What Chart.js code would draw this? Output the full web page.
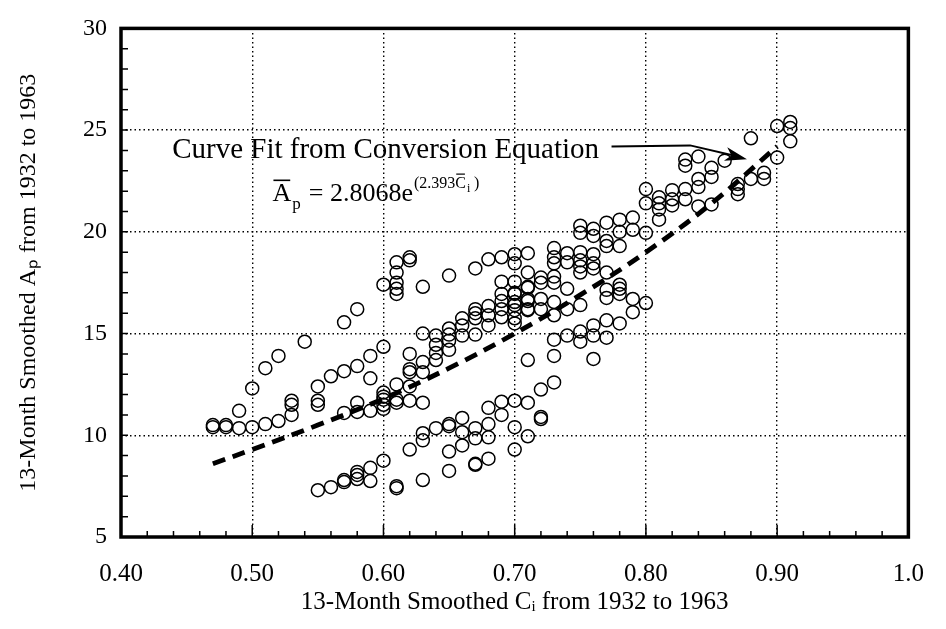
<!DOCTYPE html>
<html>
<head>
<meta charset="utf-8">
<script src="https://cdn.jsdelivr.net/npm/chart.js@4.4.0/dist/chart.umd.min.js"></script>
<style>
    html, body { margin: 0; padding: 0; background: #fff; }
    #wrap { width: 946px; height: 629px; }
</style>
</head>
<body>
<div id="wrap"><canvas id="apChart"></canvas></div>
<script>
// C_i was rounded to 0.01, so the points sit in columns; one list of Ap per column
var ciColumns = [0.47, 0.48, 0.49, 0.50, 0.51, 0.52, 0.53, 0.54, 0.55, 0.56,
                 0.57, 0.58, 0.59, 0.60, 0.61, 0.62, 0.63, 0.64, 0.65, 0.66,
                 0.67, 0.68, 0.69, 0.70, 0.71, 0.72, 0.73, 0.74, 0.75, 0.76,
                 0.77, 0.78, 0.79, 0.80, 0.81, 0.82, 0.83, 0.84, 0.85, 0.86,
                 0.87, 0.88, 0.89, 0.90, 0.91];
var apColumns = [
    [10.4, 10.5],
    [10.4, 10.5],
    [10.35, 11.2],
    [10.4, 12.3],
    [10.55, 13.3],
    [10.7, 13.9],
    [11.0, 11.5, 11.7],
    [14.6],
    [7.3, 11.5, 11.7, 12.4],
    [7.45, 12.9],
    [7.7, 7.8, 11.1, 13.15, 15.55],
    [7.85, 8.05, 8.2, 11.15, 11.6, 13.4, 16.2],
    [7.75, 8.4, 11.2, 12.8, 13.9],
    [8.75, 11.3, 11.5, 11.75, 11.9, 12.1, 14.35, 17.4],
    [7.4, 7.5, 11.6, 11.75, 12.5, 16.95, 17.2, 17.5, 18.0, 18.5],
    [9.3, 11.7, 12.4, 13.1, 13.25, 14.0, 18.6, 18.75],
    [7.8, 9.75, 10.1, 11.6, 13.1, 13.6, 15.0, 17.3],
    [10.35, 13.7, 14.05, 14.45, 14.9],
    [8.25, 9.2, 10.45, 10.55, 14.2, 14.65, 14.95, 15.25, 17.85],
    [9.5, 10.15, 10.85, 14.9, 15.4, 15.75],
    [8.55, 8.6, 9.85, 10.35, 14.95, 15.75, 16.0, 16.2, 18.2],
    [8.85, 9.9, 10.55, 11.35, 15.4, 15.9, 16.35, 18.65],
    [11.0, 11.65, 15.8, 16.2, 16.6, 16.95, 17.55, 18.75],
    [9.3, 10.4, 11.7, 15.5, 15.75, 16.15, 16.4, 16.55, 16.95, 17.0, 17.55, 18.45, 18.9],
    [9.95, 11.6, 13.7, 16.15, 16.2, 16.6, 16.7, 17.25, 17.3, 18.0, 18.95],
    [10.8, 10.9, 12.25, 16.2, 16.7, 17.5, 17.75],
    [12.6, 13.9, 14.7, 15.9, 16.55, 17.5, 17.8, 18.45, 18.75, 19.2],
    [14.9, 16.2, 17.2, 18.5, 18.95],
    [14.6, 15.1, 16.4, 18.0, 18.3, 18.6, 19.0, 19.95, 20.3],
    [13.75, 14.9, 15.4, 18.2, 18.45, 18.9, 19.8, 20.15],
    [14.8, 15.65, 16.75, 17.15, 18.0, 19.3, 19.55, 20.45],
    [15.5, 16.95, 17.2, 17.4, 19.3, 20.0, 20.6],
    [16.05, 16.7, 20.1, 20.7],
    [16.5, 19.95, 21.4, 22.1],
    [20.6, 21.1, 21.4, 21.7],
    [21.3, 21.6, 22.05],
    [21.6, 22.1, 23.25, 23.55],
    [21.25, 22.2, 22.6, 23.7],
    [21.35, 22.7, 23.15],
    [23.5],
    [21.85, 22.1, 22.35],
    [22.6, 24.6],
    [22.6, 22.9],
    [23.65, 25.2],
    [24.45, 25.1, 25.4]
];

// dashed curve fit
var fitCi = [0.47, 0.50, 0.55, 0.60, 0.65, 0.70, 0.75, 0.80, 0.85, 0.90];
var fitAp = [8.6, 9.3, 10.5, 11.8, 13.3, 15.0, 16.9, 19.0, 21.4, 24.2];

var xTickLabels = ['0.40', '0.50', '0.60', '0.70', '0.80', '0.90', '1.0'];
var yTickLabels = ['5', '10', '15', '20', '25', '30'];

var serif = '"Liberation Serif", "Times New Roman", serif';

var scatterPoints = [];
for (var i = 0; i < ciColumns.length; i++) {
    for (var j = 0; j < apColumns[i].length; j++) {
        scatterPoints.push({ x: ciColumns[i], y: apColumns[i][j] });
    }
}
var fitPoints = fitCi.map(function (c, k) { return { x: c, y: fitAp[k] }; });

// frame, inward ticks and the curve-fit note
var framePlugin = {
    id: 'frame',
    afterDraw: function (chart) {
        var ctx = chart.ctx, a = chart.chartArea;
        var xs = chart.scales.x, ys = chart.scales.y;
        ctx.save();
        ctx.strokeStyle = '#000';
        ctx.fillStyle = '#000';

        ctx.lineWidth = 1.5;
        ctx.beginPath();
        for (var v = 0.42; v < 0.995; v += 0.02) {
            var px = xs.getPixelForValue(v);
            var major = Math.abs(v * 10 - Math.round(v * 10)) < 0.01;
            ctx.moveTo(px, a.bottom);
            ctx.lineTo(px, a.bottom - (major ? 12 : 6));
        }
        for (var w = 6; w < 30; w++) {
            var py = ys.getPixelForValue(w);
            ctx.moveTo(a.left, py);
            ctx.lineTo(a.left + 7, py);
        }
        ctx.stroke();

        ctx.lineWidth = 3.5;
        ctx.strokeRect(a.left, a.top, a.right - a.left, a.bottom - a.top);

        // note text
        ctx.font = '29px ' + serif;
        ctx.textBaseline = 'alphabetic';
        var tx = xs.getPixelForValue(0.439), ty = ys.getPixelForValue(23.62);
        var note = 'Curve Fit from Conversion Equation';
        ctx.fillText(note, tx, ty);

        // arrow
        var p0 = { x: xs.getPixelForValue(0.7738), y: ys.getPixelForValue(24.2) };
        var p1 = { x: xs.getPixelForValue(0.8337), y: ys.getPixelForValue(24.25) };
        var p2 = { x: xs.getPixelForValue(0.877), y: ys.getPixelForValue(23.57) };
        ctx.lineWidth = 2;
        ctx.beginPath();
        ctx.moveTo(p0.x, p0.y);
        ctx.lineTo(p1.x, p1.y);
        ctx.lineTo(p2.x - 8, p2.y - 2.5);
        ctx.stroke();
        var ang = Math.atan2(p2.y - p1.y, p2.x - p1.x);
        ctx.beginPath();
        ctx.moveTo(p2.x, p2.y);
        ctx.lineTo(p2.x - 22 * Math.cos(ang) + 7 * Math.sin(ang), p2.y - 22 * Math.sin(ang) - 7 * Math.cos(ang));
        ctx.lineTo(p2.x - 16 * Math.cos(ang), p2.y - 16 * Math.sin(ang));
        ctx.lineTo(p2.x - 22 * Math.cos(ang) - 7 * Math.sin(ang), p2.y - 22 * Math.sin(ang) + 7 * Math.cos(ang));
        ctx.closePath();
        ctx.fill();

        // equation
        var ex = xs.getPixelForValue(0.5154), ey = ys.getPixelForValue(21.54);
        ctx.font = '26px ' + serif;
        ctx.fillText('A', ex, ey);
        var wA = ctx.measureText('A').width;
        ctx.fillRect(ex + 1, ey - 21, wA - 2, 1.6);
        ctx.font = '17px ' + serif;
        ctx.fillText('p', ex + wA + 1, ey + 8);
        var x2 = ex + wA + 11;
        ctx.font = '26px ' + serif;
        var main = ' = 2.8068e';
        ctx.fillText(main, x2, ey);
        x2 += ctx.measureText(main).width + 1;
        ctx.font = '16px ' + serif;
        var sup = '(2.393C';
        ctx.fillText(sup, x2, ey - 13);
        var wSup = ctx.measureText(sup).width;
        var wC = ctx.measureText('C').width;
        ctx.fillRect(x2 + wSup - wC + 1, ey - 27, wC - 2, 1.2);
        ctx.font = '12px ' + serif;
        ctx.fillText('i', x2 + wSup + 1, ey - 9);
        ctx.font = '16px ' + serif;
        ctx.fillText(' )', x2 + wSup + 4, ey - 13);
        ctx.restore();
    }
};

var apChart = new Chart(document.getElementById('apChart'), {
    type: 'scatter',
    data: {
        datasets: [
            {
                type: 'line',
                label: 'Curve fit',
                data: fitPoints,
                order: 0,
                borderColor: '#000',
                borderWidth: 4.8,
                borderDash: [13, 8],
                borderCapStyle: 'butt',
                tension: 0.4,
                pointRadius: 0,
                fill: false
            },
            {
                label: '13-month smoothed',
                data: scatterPoints,
                order: 1,
                pointStyle: 'circle',
                pointRadius: 6.5,
                borderColor: '#000',
                borderWidth: 1.5,
                backgroundColor: 'rgba(0,0,0,0)'
            }
        ]
    },
    options: {
        responsive: true,
        maintainAspectRatio: false,
        animation: false,
        layout: { padding: { left: 8, top: 20, right: 24, bottom: 8 } },
        plugins: { legend: { display: false }, tooltip: { enabled: false } },
        scales: {
            x: {
                type: 'linear',
                min: 0.4,
                max: 1.0,
                afterFit: function (scale) { scale.height = 84; },
                ticks: {
                    stepSize: 0.1,
                    autoSkip: false,
                    maxRotation: 0,
                    padding: 22,
                    color: '#000',
                    font: { family: serif, size: 25 },
                    callback: function (value) {
                        return xTickLabels[Math.round((value - 0.4) * 10)];
                    }
                },
                grid: { color: '#000', lineWidth: 1.4, drawTicks: false },
                border: { display: false, dash: [1.5, 3] },
                title: {
                    display: true,
                    text: '13-Month Smoothed Cᵢ from 1932 to 1963',
                    color: '#000',
                    font: { family: serif, size: 25 },
                    padding: { top: 0, bottom: 4 }
                }
            },
            y: {
                min: 5,
                max: 30,
                afterFit: function (scale) { scale.width = 113; },
                ticks: {
                    stepSize: 5,
                    padding: 14,
                    color: '#000',
                    font: { family: serif, size: 24 },
                    callback: function (value) {
                        return yTickLabels[Math.round((value - 5) / 5)];
                    }
                },
                grid: { color: '#000', lineWidth: 1.4, drawTicks: false },
                border: { display: false, dash: [1.5, 3] },
                title: {
                    display: true,
                    text: '13-Month Smoothed Aₚ from 1932 to 1963',
                    color: '#000',
                    font: { family: serif, size: 24 },
                    padding: { top: 6, bottom: 0 }
                }
            }
        }
    },
    plugins: [framePlugin]
});
</script>
</body>
</html>
